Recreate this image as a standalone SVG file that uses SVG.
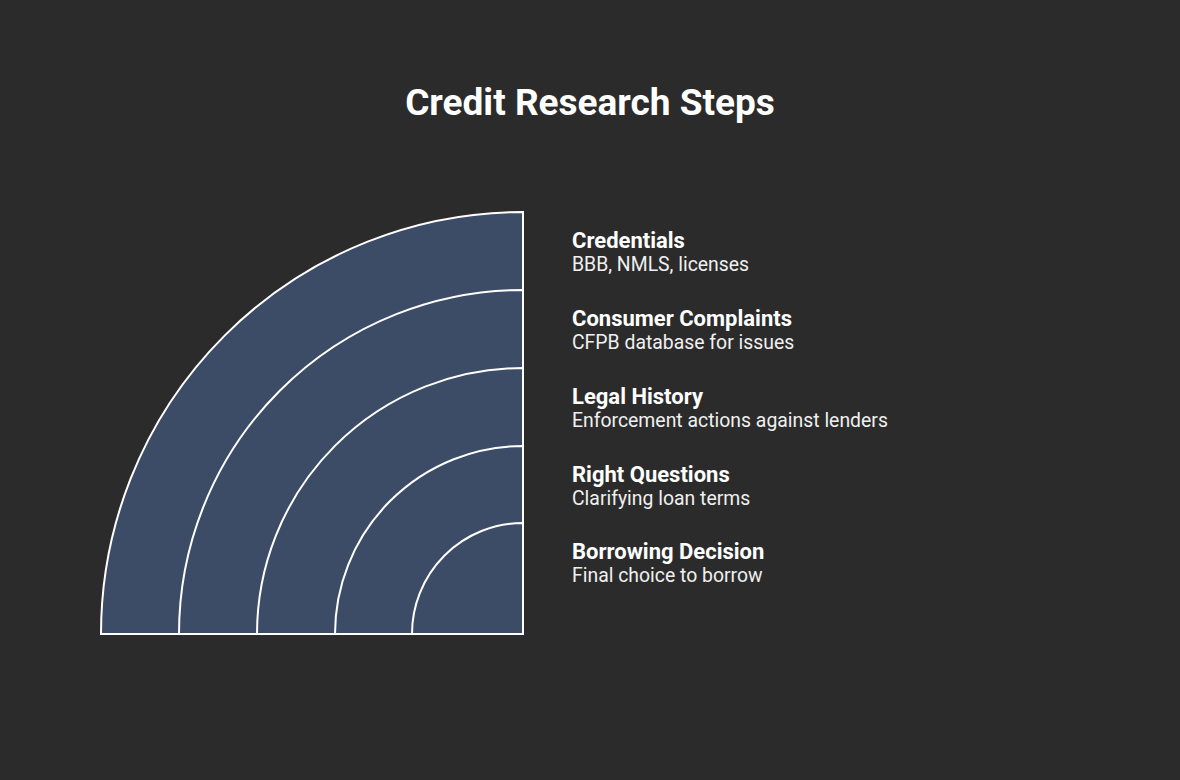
<svg xmlns="http://www.w3.org/2000/svg" width="1180" height="780" viewBox="0 0 1180 780">
<style>
.sec{fill:#3d4c66;stroke:#ffffff;stroke-width:2;stroke-linejoin:miter}
.t{font-family:Roboto,"Liberation Sans",sans-serif;fill:#ffffff}
.h{font-size:22px;font-weight:bold}
.s{font-size:19.4px;fill:#f0f0f0}
</style>
<rect width="1180" height="780" fill="#2b2b2b"/>
<text class="t" x="590" y="115" text-anchor="middle" font-size="37" font-weight="bold">Credit Research Steps</text>
<g id="credentials">
<path class="sec" d="M523 634 L101 634 A422 422 0 0 1 523 212 Z"/>
<text class="t h" x="572" y="248">Credentials</text>
<text class="t s" x="572" y="271">BBB, NMLS, licenses</text>
</g>
<g id="complaints">
<path class="sec" d="M523 634 L179 634 A344 344 0 0 1 523 290 Z"/>
<text class="t h" x="572" y="326">Consumer Complaints</text>
<text class="t s" x="572" y="349">CFPB database for issues</text>
</g>
<g id="legal">
<path class="sec" d="M523 634 L257 634 A266 266 0 0 1 523 368 Z"/>
<text class="t h" x="572" y="404">Legal History</text>
<text class="t s" x="572" y="427">Enforcement actions against lenders</text>
</g>
<g id="questions">
<path class="sec" d="M523 634 L335 634 A188 188 0 0 1 523 446 Z"/>
<text class="t h" x="572" y="482">Right Questions</text>
<text class="t s" x="572" y="505">Clarifying loan terms</text>
</g>
<g id="decision">
<path class="sec" d="M523 634 L412 634 A111 111 0 0 1 523 523 Z"/>
<text class="t h" x="572" y="559">Borrowing Decision</text>
<text class="t s" x="572" y="582">Final choice to borrow</text>
</g>
<g id="connectors"></g>
</svg>
